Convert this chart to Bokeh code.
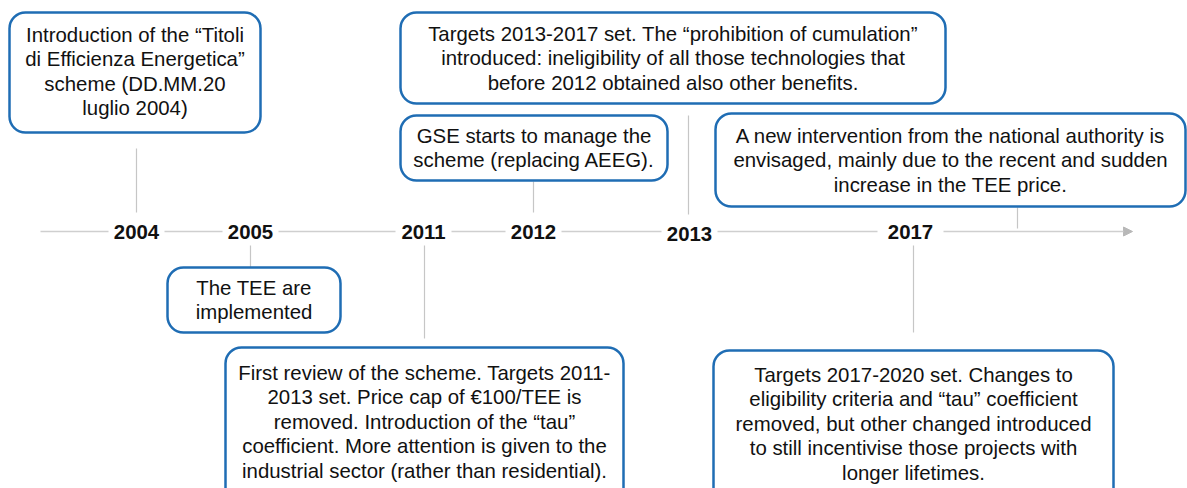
from bokeh.plotting import figure
from bokeh.models import Range1d, Arrow, NormalHead
from bokeh.core.properties import value
from bokeh.embed import file_html
from bokeh.resources import INLINE

# ---------------- data ----------------
years = ["2004", "2005", "2011", "2012", "2013", "2017"]

event_years = ["2004", "2013", "2012", "2017", "2005", "2011", "2017"]
event_texts = [
    ["Introduction of the \u201cTitoli", "di Efficienza Energetica\u201d", "scheme (DD.MM.20", "luglio 2004)"],
    ["Targets 2013-2017 set. The \u201cprohibition of cumulation\u201d",
     "introduced: ineligibility of all those technologies that",
     "before 2012 obtained also other benefits."],
    ["GSE starts to manage the", "scheme (replacing AEEG)."],
    ["A new intervention from the national authority is",
     "envisaged, mainly due to the recent and sudden",
     "increase in the TEE price."],
    ["The TEE are", "implemented"],
    ["First review of the scheme. Targets 2011-",
     "2013 set. Price cap of \u20ac100/TEE is",
     "removed. Introduction of the \u201ctau\u201d",
     "coefficient. More attention is given to the",
     "industrial sector (rather than residential)."],
    ["Targets 2017-2020 set. Changes to",
     "eligibility criteria and \u201ctau\u201d coefficient",
     "removed, but other changed introduced",
     "to still incentivise those projects with",
     "longer lifetimes."],
]

# ---------------- layout (pixel positions in the page) ----------------
year_x = [136, 250, 423, 533, 689, 910]
year_y = [231, 231, 231, 231, 233, 231]
gap_w = [56, 56, 56, 56, 56, 66]
axis_y = 231
axis_x0, axis_x1 = 40, 1132

# box: left, right, top, bottom
box_l = [9, 400, 400, 715, 167, 225, 713]
box_r = [260, 945, 667, 1185, 340, 623, 1113]
box_t = [12, 12, 115, 113, 267, 347, 350]
box_b = [132, 103, 180, 206, 332, 520, 520]
first_line_y = [34, 33, 135, 135, 287, 372, 374]
line_step = 24.6
# connector: x, y0, y1
con_x = [136, 688, 533, 1017, 250, 424, 913]
con_y0 = [148, 115, 181, 207, 245, 245, 245]
con_y1 = [212, 214, 212, 228, 267, 338, 332]

FONT = "Liberation Sans"
BLUE = "#1f6db4"
GREY = "#c6c6c6"
FS = "20.4px"

p = figure(width=1187, height=488, output_backend="svg", toolbar_location=None,
           x_range=Range1d(0, 1187), y_range=Range1d(488, 0),
           min_border=0, background_fill_color="white")
p.axis.visible = False
p.grid.visible = False
p.outline_line_color = None

# timeline arrow
p.add_layout(Arrow(x_start=axis_x0, y_start=axis_y, x_end=axis_x1, y_end=axis_y,
                   line_color="#cfcfcf", line_width=1.3, level="underlay",
                   end=NormalHead(size=9, fill_color="#b8b8b8", line_color="#b8b8b8")))

# white gaps behind year labels
p.rect(x=year_x, y=[axis_y] * len(year_x), width=gap_w, height=18,
       fill_color="white", line_color=None)

# connectors
p.segment(x0=con_x, y0=con_y0, x1=con_x, y1=con_y1, line_color=GREY, line_width=1.2)

# year labels
p.text(x=year_x, y=year_y, text=years, text_font=value(FONT), text_font_style="bold",
       text_font_size=FS, text_align="center", text_baseline="middle", text_color="#111111")

# boxes
p.quad(left=box_l, right=box_r, top=box_t, bottom=box_b, fill_color="white",
       line_color=BLUE, line_width=2.5, border_radius=16)

# box texts
tx, ty, tt = [], [], []
for i, lines in enumerate(event_texts):
    cx = (box_l[i] + box_r[i]) / 2
    for j, ln in enumerate(lines):
        tx.append(cx)
        ty.append(first_line_y[i] + j * line_step)
        tt.append(ln)
p.text(x=tx, y=ty, text=tt, text_font=value(FONT), text_font_size=FS,
       text_align="center", text_baseline="middle", text_color="#111111")

open("out.html", "w").write(file_html(p, INLINE))
